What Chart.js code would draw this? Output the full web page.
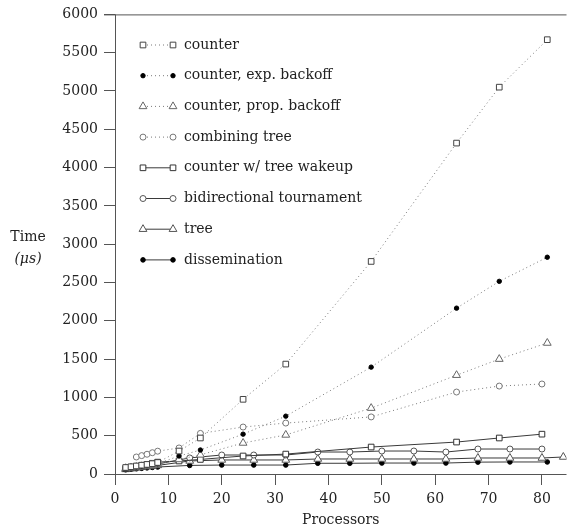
<!DOCTYPE html>
<html>
<head>
<meta charset="utf-8">
<script src="https://cdn.jsdelivr.net/npm/chart.js@4"></script>
<style>
  body { margin: 0; background: #fff; }
</style>
</head>
<body>
<canvas id="barrierChart" width="572" height="528"></canvas>
<script>
// Processors (x) and time in microseconds (y)
const counterX = [2, 3, 4, 5, 6, 7, 8, 12, 16, 24, 32, 48, 64, 72, 81];
const counterY = [85, 95, 105, 115, 125, 135, 150, 300, 470, 975, 1435, 2775, 4320, 5050, 5670];

const expBackoffX = [2, 3, 4, 5, 6, 7, 8, 12, 16, 24, 32, 48, 64, 72, 81];
const expBackoffY = [75, 85, 95, 105, 115, 125, 135, 235, 313, 520, 755, 1395, 2165, 2515, 2830];

const propBackoffX = [2, 3, 4, 5, 6, 7, 8, 12, 16, 24, 32, 48, 64, 72, 81];
const propBackoffY = [75, 82, 90, 100, 110, 118, 128, 190, 250, 405, 510, 860, 1290, 1500, 1710];

const combiningX = [4, 5, 6, 7, 8, 12, 16, 24, 32, 48, 64, 72, 80];
const combiningY = [222, 240, 258, 278, 298, 340, 530, 613, 665, 745, 1070, 1148, 1175];

const wakeupX = [2, 3, 4, 5, 6, 7, 8, 12, 16, 24, 32, 48, 64, 72, 80];
const wakeupY = [70, 80, 95, 110, 125, 140, 155, 170, 190, 235, 260, 352, 417, 470, 520];

const tournamentX = [2, 3, 4, 5, 6, 7, 8, 14, 20, 26, 32, 38, 44, 50, 56, 62, 68, 74, 80];
const tournamentY = [70, 80, 90, 100, 110, 120, 130, 210, 248, 248, 248, 287, 287, 300, 300, 287, 326, 326, 326];

const treeX = [2, 3, 4, 5, 6, 7, 8, 14, 20, 26, 32, 38, 44, 50, 56, 62, 68, 74, 80, 84];
const treeY = [60, 70, 80, 88, 96, 104, 112, 170, 183, 183, 183, 196, 196, 196, 196, 196, 209, 209, 209, 222];

const disseminationX = [2, 3, 4, 5, 6, 7, 8, 14, 20, 26, 32, 38, 44, 50, 56, 62, 68, 74, 81];
const disseminationY = [55, 62, 68, 74, 80, 86, 91, 112, 117, 117, 117, 140, 140, 143, 143, 143, 155, 157, 157];

const seriesLabels = ['counter', 'counter, exp. backoff', 'counter, prop. backoff', 'combining tree',
  'counter w/ tree wakeup', 'bidirectional tournament', 'tree', 'dissemination'];

const FONT = 'DejaVu Serif';

function pts(xs, ys) {
  return xs.map((x, i) => ({ x: x, y: ys[i] }));
}

function series(label, xs, ys, style) {
  return Object.assign({
    label: label,
    data: pts(xs, ys),
    showLine: true,
    borderWidth: 1,
    pointBorderWidth: 1,
    pointHoverRadius: 0
  }, style);
}

const dotted = { borderColor: '#7a7a7a', borderDash: [1, 3] };
const solid = { borderColor: '#3a3a3a', borderDash: [] };

const datasets = [
  series(seriesLabels[0], counterX, counterY, Object.assign({ pointStyle: 'rect', pointRadius: 4, pointBorderColor: '#444', pointBackgroundColor: '#fff' }, dotted)),
  series(seriesLabels[1], expBackoffX, expBackoffY, Object.assign({ pointStyle: 'circle', pointRadius: 2.2, pointBorderColor: '#000', pointBackgroundColor: '#000' }, dotted)),
  series(seriesLabels[2], propBackoffX, propBackoffY, Object.assign({ pointStyle: 'triangle', pointRadius: 4.5, pointBorderColor: '#666', pointBackgroundColor: '#fff' }, dotted)),
  series(seriesLabels[3], combiningX, combiningY, Object.assign({ pointStyle: 'circle', pointRadius: 3, pointBorderColor: '#777', pointBackgroundColor: '#fff' }, dotted)),
  series(seriesLabels[4], wakeupX, wakeupY, Object.assign({ pointStyle: 'rect', pointRadius: 4, pointBorderColor: '#333', pointBackgroundColor: '#fff' }, solid)),
  series(seriesLabels[5], tournamentX, tournamentY, Object.assign({ pointStyle: 'circle', pointRadius: 3, pointBorderColor: '#555', pointBackgroundColor: '#fff' }, solid)),
  series(seriesLabels[6], treeX, treeY, Object.assign({ pointStyle: 'triangle', pointRadius: 4.5, pointBorderColor: '#555', pointBackgroundColor: '#fff' }, solid)),
  series(seriesLabels[7], disseminationX, disseminationY, Object.assign({ pointStyle: 'circle', pointRadius: 2.3, pointBorderColor: '#000', pointBackgroundColor: '#000' }, solid))
];

// Axis frame, axis titles and the in-plot legend
const framePlugin = {
  id: 'frame',
  afterDraw(chart) {
    const ctx = chart.ctx;
    const a = chart.chartArea;
    ctx.save();
    ctx.strokeStyle = '#555';
    ctx.lineWidth = 1;
    ctx.setLineDash([]);
    ctx.beginPath();
    ctx.moveTo(a.left - 11, a.top + 0.5); ctx.lineTo(a.right, a.top + 0.5);
    ctx.moveTo(a.left + 0.5, a.top); ctx.lineTo(a.left + 0.5, a.bottom + 11);
    ctx.moveTo(a.left - 11, a.bottom + 0.5); ctx.lineTo(a.right, a.bottom + 0.5);
    ctx.stroke();

    ctx.fillStyle = '#222';
    ctx.font = '14px "' + FONT + '"';
    ctx.textAlign = 'center';
    ctx.textBaseline = 'middle';
    ctx.fillText('Processors', (a.left + a.right) / 2, 520);
    ctx.fillText('Time', 28, 237);
    ctx.font = 'italic 14px "' + FONT + '"';
    ctx.fillText('(\u03bcs)', 28, 259);
    ctx.restore();
  }
};

const legendPlugin = {
  id: 'plotLegend',
  afterDatasetsDraw(chart) {
    const ctx = chart.ctx;
    const x1 = 143, x2 = 173, tx = 184;
    chart.data.datasets.forEach((ds, i) => {
      const y = 45 + i * 30.7;
      ctx.save();
      ctx.strokeStyle = ds.borderColor;
      ctx.lineWidth = 1;
      ctx.setLineDash(ds.borderDash);
      ctx.beginPath();
      ctx.moveTo(x1, y); ctx.lineTo(x2, y);
      ctx.stroke();
      ctx.setLineDash([]);
      ctx.strokeStyle = ds.pointBorderColor;
      ctx.fillStyle = ds.pointBackgroundColor;
      [x1, x2].forEach(px => {
        Chart.helpers.drawPoint(ctx, { pointStyle: ds.pointStyle, rotation: 0, radius: ds.pointRadius, borderWidth: 1 }, px, y);
      });
      ctx.fillStyle = '#222';
      ctx.font = '14px "' + FONT + '"';
      ctx.textAlign = 'left';
      ctx.textBaseline = 'middle';
      ctx.fillText(ds.label, tx, y);
      ctx.restore();
    });
  }
};

const ctx = document.getElementById('barrierChart').getContext('2d');
new Chart(ctx, {
  type: 'scatter',
  data: { datasets: datasets },
  options: {
    responsive: false,
    animation: false,
    layout: { padding: { top: 14, right: 0, left: 0, bottom: 0 } },
    plugins: {
      legend: { display: false },
      tooltip: { enabled: false }
    },
    scales: {
      x: {
        type: 'linear',
        min: 0,
        max: 84.6,
        afterFit(scale) { scale.height = 54; },
        border: { display: false },
        grid: { drawOnChartArea: false, tickLength: 11, color: '#555' },
        ticks: { stepSize: 10, includeBounds: false, padding: 6, color: '#222', font: { family: FONT, size: 14 },
          callback: (v) => String(v) }
      },
      y: {
        type: 'linear',
        min: 0,
        max: 6000,
        afterFit(scale) { scale.width = 115; },
        border: { display: false },
        grid: { drawOnChartArea: false, tickLength: 11, color: '#555' },
        ticks: { stepSize: 500, padding: 6, color: '#222', font: { family: FONT, size: 14 },
          callback: (v) => String(v) }
      }
    }
  },
  plugins: [framePlugin, legendPlugin]
});
</script>
</body>
</html>
